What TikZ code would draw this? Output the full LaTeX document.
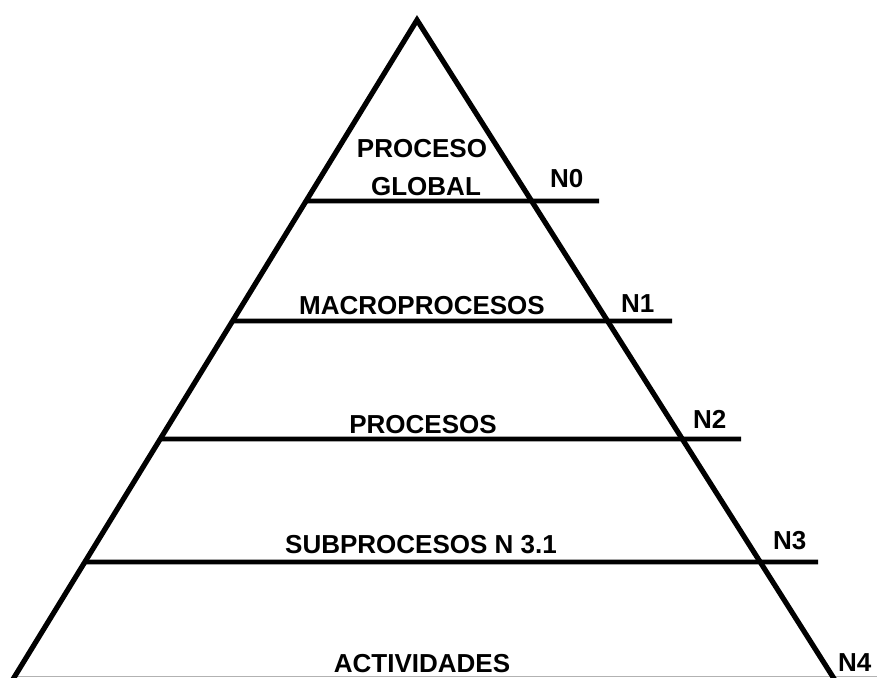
\documentclass[tikz,border=0pt]{standalone}
\usepackage{fontspec}
\setmainfont{Liberation Sans}
\begin{document}
\begin{tikzpicture}[x=1pt,y=-1pt,
    edge/.style={line width=5.2pt,line join=miter,black},
    levelline/.style={line width=4.6pt,black},
    label/.style={font=\fontsize{26}{29}\selectfont\bfseries,anchor=base,inner sep=0pt},
    tag/.style={label,anchor=base west}]
  \useasboundingbox (0,0) rectangle (877,677);
  \clip (0,0) rectangle (877,677);
  \fill[white] (0,0) rectangle (877,677);

  % pyramid corners (base extended past the lower border)
  \coordinate (apex) at (417,20);
  \coordinate (bl) at (6.4,690);
  \coordinate (br) at (841.2,690);

  % thin grey ground line
  \draw[gray!60,line width=1.2pt] (14,676.3) -- (877,676.3);

  % pyramid sides
  \draw[edge] (bl) -- (apex) -- (br);

  % level separators: from the left side out past the right side
  \coordinate (e0) at (599,201);
  \coordinate (e1) at (672,321);
  \coordinate (e2) at (741,439);
  \coordinate (e3) at (818,562);
  \coordinate (s0) at (intersection of apex--bl and 0,201--1,201);
  \coordinate (s1) at (intersection of apex--bl and 0,321--1,321);
  \coordinate (s2) at (intersection of apex--bl and 0,439--1,439);
  \coordinate (s3) at (intersection of apex--bl and 0,562--1,562);
  \draw[levelline] (s0) -- (e0);
  \draw[levelline] (s1) -- (e1);
  \draw[levelline] (s2) -- (e2);
  \draw[levelline] (s3) -- (e3);

  % level names
  \node[label] (proceso) at (422,157) {PROCESO};
  \node[label] (global) at (426,195) {GLOBAL};
  \node[label] (macro) at (422,314) {MACROPROCESOS};
  \node[label] (procesos) at (423,433) {PROCESOS};
  \node[label] (sub) at (421,553) {SUBPROCESOS N 3.1};
  \node[label] (act) at (422,672) {ACTIVIDADES};

  % level tags
  \node[tag] (n0) at (550,187) {N0};
  \node[tag] (n1) at (621,312) {N1};
  \node[tag] (n2) at (693,428) {N2};
  \node[tag] (n3) at (773,549) {N3};
  \node[tag] (n4) at (838,671) {N4};
\end{tikzpicture}
\end{document}
